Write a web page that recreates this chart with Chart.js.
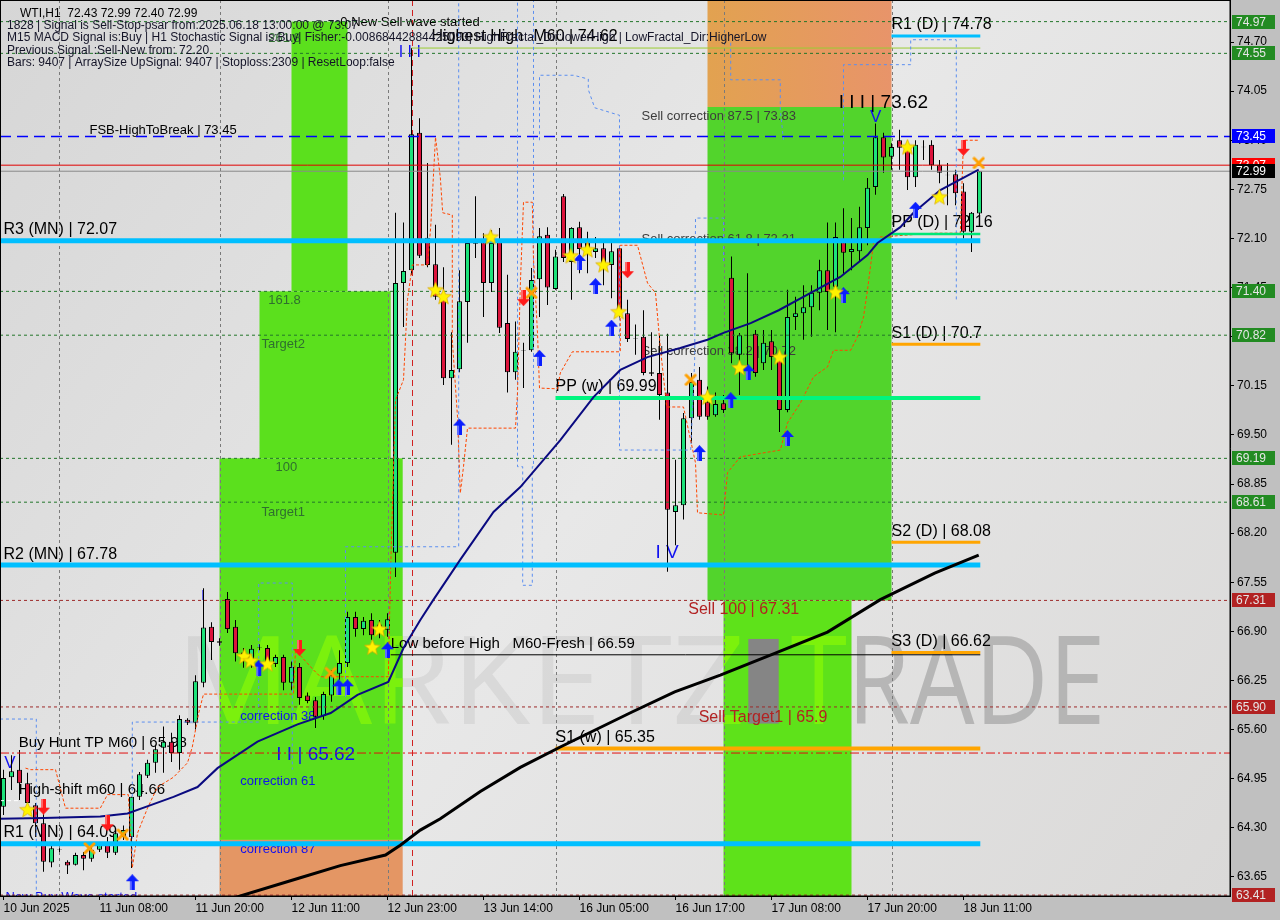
<!DOCTYPE html>
<html>
<head>
<meta charset="utf-8">
<script src="https://cdn.jsdelivr.net/npm/chart.js@4.4.1/dist/chart.umd.min.js"></script>
<style>
html, body { margin: 0; padding: 0; background: #c0c0c0; overflow: hidden; }
canvas { display: block; }
</style>
</head>
<body>
<canvas id="chart" width="1280" height="920"></canvas>
<script>
// time axis: one label every 12 hourly bars
var timeLabels = ["10 Jun 2025", "11 Jun 08:00", "11 Jun 20:00", "12 Jun 11:00", "12 Jun 23:00", "13 Jun 14:00",
                  "16 Jun 05:00", "16 Jun 17:00", "17 Jun 08:00", "17 Jun 20:00", "18 Jun 11:00"];
var timeTickIdx = [0, 12, 24, 36, 48, 60, 72, 84, 96, 108, 120];
var priceTicks = [74.70, 74.05, 73.40, 72.75, 72.10, 71.45, 70.80, 70.15, 69.50, 68.85, 68.20, 67.55,
                  66.90, 66.25, 65.60, 64.95, 64.30, 63.65];

// WTI H1 candles
var openP = [64.58, 64.97, 65.07, 64.89, 64.60, 64.36, 63.84, 64.01, 63.85, 63.81, 63.94, 63.89, 64.01, 64.10, 63.97, 64.18,
  64.18, 64.71, 64.99, 65.16, 65.36, 65.44, 65.29, 65.73, 65.69, 66.22, 66.96, 66.77, 67.33, 66.96, 66.52, 66.46,
  66.69, 66.68, 66.47, 66.56, 66.22, 66.43, 66.05, 65.99, 65.78, 66.05, 66.34, 66.48, 67.09, 66.93, 67.05, 66.99,
  66.92, 67.94, 71.51, 71.68, 73.50, 72.11, 71.76, 71.33, 70.25, 70.37, 71.26, 72.03, 72.05, 71.51, 72.08, 70.98,
  70.33, 70.62, 70.62, 71.56, 72.15, 71.43, 72.66, 71.79, 72.25, 72.08, 71.92, 71.97, 71.75, 71.97, 71.11, 70.78,
  70.80, 70.31, 70.32, 70.06, 68.48, 68.57, 69.72, 70.23, 69.94, 69.76, 69.92, 71.58, 70.56, 70.82, 70.84, 70.45,
  70.74, 70.56, 69.83, 71.06, 71.11, 71.19, 71.38, 71.68, 71.46, 72.05, 71.92, 71.93, 72.24, 72.78, 73.44, 73.18,
  73.40, 73.30, 72.91, 73.31, 73.34, 73.07, 72.94, 72.95, 72.72, 72.19, 72.43];
var highP = [65.07, 65.26, 65.33, 65.03, 64.63, 64.50, 64.07, 64.03, 63.87, 63.97, 63.98, 64.07, 64.11, 64.18, 64.27, 64.33,
  64.71, 65.04, 65.20, 65.40, 65.64, 65.56, 65.79, 65.75, 66.32, 67.47, 67.02, 66.81, 67.42, 67.05, 66.68, 66.72,
  66.73, 66.72, 66.59, 66.59, 66.50, 66.48, 66.09, 66.03, 66.10, 66.39, 66.65, 67.16, 67.16, 67.09, 67.14, 67.05,
  67.14, 72.44, 72.31, 74.62, 73.69, 73.10, 72.28, 71.72, 70.86, 71.68, 72.05, 72.66, 72.17, 72.21, 72.24, 71.62,
  71.00, 70.72, 71.71, 72.24, 72.25, 71.95, 72.69, 72.25, 72.32, 72.19, 72.12, 72.04, 72.04, 71.99, 71.29, 70.96,
  71.15, 70.86, 70.82, 70.84, 69.17, 69.79, 70.32, 70.40, 70.14, 70.06, 70.03, 71.86, 70.85, 71.64, 70.89, 70.89,
  70.89, 70.58, 71.42, 71.33, 71.48, 71.48, 71.82, 72.31, 72.31, 72.50, 72.37, 72.52, 72.90, 73.62, 73.50, 73.36,
  73.54, 73.36, 73.40, 73.40, 73.40, 73.14, 73.10, 73.01, 72.83, 72.45, 72.99];
var lowP = [64.47, 64.80, 64.67, 64.54, 64.31, 63.72, 63.78, 63.98, 63.69, 63.80, 63.74, 63.85, 63.98, 63.90, 63.94, 64.14,
  63.77, 64.67, 64.96, 65.03, 65.03, 65.17, 65.07, 65.66, 65.60, 66.16, 66.52, 66.71, 66.88, 66.50, 66.42, 66.42,
  66.65, 66.43, 66.43, 66.12, 66.12, 65.93, 65.95, 65.62, 65.73, 65.97, 66.26, 66.43, 66.83, 66.85, 66.79, 66.81,
  66.83, 67.62, 70.93, 71.62, 71.84, 71.72, 71.29, 70.16, 69.37, 70.33, 70.72, 71.84, 71.06, 71.39, 70.85, 70.06,
  70.23, 70.12, 70.60, 71.06, 71.22, 71.42, 71.79, 71.29, 71.64, 71.64, 71.84, 71.48, 71.31, 71.02, 70.73, 70.56,
  70.29, 70.28, 69.70, 67.69, 68.04, 68.38, 69.39, 69.70, 69.70, 69.74, 69.79, 70.45, 70.03, 70.27, 70.27, 70.36,
  70.36, 69.54, 69.80, 70.89, 70.76, 70.80, 71.15, 70.89, 70.86, 71.62, 71.68, 71.79, 72.01, 72.68, 72.97, 73.01,
  73.01, 72.74, 72.78, 73.14, 73.01, 72.83, 72.54, 72.54, 72.10, 71.92, 72.40];
var closeP = [64.96, 65.05, 64.89, 64.63, 64.36, 63.85, 64.03, 64.01, 63.80, 63.94, 63.89, 64.01, 64.07, 63.97, 64.23, 64.27,
  64.71, 65.01, 65.16, 65.34, 65.44, 65.29, 65.74, 65.69, 66.24, 66.95, 66.76, 66.75, 66.93, 66.61, 66.62, 66.67,
  66.69, 66.48, 66.56, 66.22, 66.43, 66.02, 65.98, 65.77, 66.07, 66.32, 66.48, 67.09, 66.93, 67.04, 66.85, 66.89,
  67.06, 71.51, 71.67, 73.48, 71.87, 71.75, 71.33, 70.25, 70.36, 71.27, 72.04, 72.04, 71.51, 72.04, 70.92, 70.33,
  70.60, 70.62, 71.55, 72.13, 71.45, 71.86, 71.84, 72.24, 71.96, 71.90, 71.97, 71.75, 71.93, 71.15, 70.77, 70.78,
  70.32, 70.33, 70.03, 68.51, 68.57, 69.72, 70.20, 69.74, 69.74, 69.91, 69.83, 70.58, 70.82, 70.82, 70.32, 70.72,
  70.53, 69.83, 71.06, 71.11, 71.19, 71.38, 71.68, 71.39, 72.12, 71.91, 71.96, 72.25, 72.77, 73.44, 73.17, 73.31,
  73.30, 72.91, 73.34, 73.31, 73.07, 72.97, 72.94, 72.70, 72.19, 72.44, 72.99];

// moving averages (bar index, price)
var blueMAIdx = [-0.44, 5, 12.1, 15.5, 18.4, 21.25, 24.25, 26.75, 31.75, 36.75, 40.9, 44.25, 48.1, 50, 52.1, 53.75,
  57.1, 61.25, 64.6, 69.6, 73.75, 77.1, 80.5, 84.6, 88, 90, 93.4, 96.9, 100.9, 104.6, 108, 109.25, 112.1, 113.75, 117.1, 121.9];
var blueMAVal = [64.42, 64.43, 64.45, 64.49, 64.60, 64.71, 64.84, 65.09, 65.44, 65.67, 65.82, 66.06, 66.23, 66.68, 67.05, 67.32,
  67.85, 68.48, 68.81, 69.43, 70.00, 70.36, 70.53, 70.65, 70.76, 70.85, 70.98, 71.15, 71.38, 71.59, 71.88, 72.04, 72.25, 72.44, 72.74, 73.01];
var blackMAIdx = [28.1, 37.1, 42.1, 47.75, 49.6, 52.1, 54.6, 59.6, 64.6, 69.6, 78.5, 83.9, 89.6, 96.4, 103, 109.6, 116.4, 121.9];
var blackMAVal = [63.35, 63.64, 63.80, 63.94, 64.07, 64.27, 64.42, 64.78, 65.10, 65.37, 65.83, 66.10, 66.32, 66.61, 66.89, 67.32, 67.67, 67.91];

// trailing stop (orange) and fractal channels (blue), as [bar index, price]
var stopPath = [[2.75,65.09],[3.4,65.07],[6.5,65.07],[7.75,64.56],[12.1,64.56],[13,64.74],[15.6,64.74],[16.1,63.77],
  [16.75,64.23],[18,64.56],[19.25,64.84],[21.25,64.97],[23,65.16],[23.6,65.37],[24.4,65.82],[25,66.07],[36.25,66.07],
  [36.5,66.65],[38.75,66.39],[39.6,66.30],[48.1,66.30],[48.4,67.75],[49,69.96],[50,70.23],[50.5,71.29],[51.1,71.75],
  [53,71.75],[53.4,72.25],[54,73.44],[54.6,72.91],[54.9,72.44],[56.1,72.41],[56.1,70.76],[56.75,69.74],[57.1,68.73],
  [57.5,69.08],[58,69.59],[64,69.59],[64.25,70.06],[64.6,71.48],[65,72.58],[66.1,72.58],[66.25,71.82],[66.75,70.85],
  [67,70.12],[69.25,70.11],[69.6,70.32],[71.1,70.60],[77.1,70.60],[77.1,72.01],[79.25,72.01],[80.5,71.51],[81.5,71.38],
  [82.1,70.66],[82.9,69.87],[85,69.87],[86.5,69.13],[86.75,68.47],[90,68.44],[90.5,69.00],[92.1,69.21],[97.1,69.30],
  [98,69.66],[99.6,69.92],[101.25,70.27],[103,70.40],[103.75,70.62],[105.9,70.62],[106.75,70.80],[107.5,71.06],
  [108,71.42],[108.75,72.04],[109.6,72.12],[116.25,72.17],[119.6,72.17],[120,73.40],[121.9,73.40]];
var channelA = [[-0.44,65.74],[4.1,65.74],[4.1,63.30]];
var channelB = [[16.1,63.84],[16.1,65.70],[31.9,65.70],[31.9,67.54],[36.1,67.54],[36.1,65.07]];
var channelC = [[42.75,66.03],[42.75,68.02],[56.9,68.02],[56.9,75.30]];
var channelD = [[64.25,75.30],[64.25,69.08],[64.9,69.08],[64.9,67.51],[66.1,67.51],[66.1,69.08],[66.25,69.08],[66.25,75.30]];
var channelE = [[67,73.40],[67,74.26],[71.25,74.26],[73.1,74.21],[73.1,74.07],[73.9,73.83],[77,73.73],[77,69.30],
  [85.9,69.30],[86.4,70.49],[86.5,72.37],[90,72.37],[90,71.80]];
var channelF = [[90.9,74.69],[90.9,74.20],[97.1,74.20],[97.1,73.80],[97.5,73.40]];
var channelG = [[105,72.87],[105,74.40],[113.4,74.40],[113.4,74.73],[119.1,74.73],[119.1,71.29]];

// price levels
var monthlyLevels = [72.07, 67.78, 64.09];          // R3, R2, R1 (MN)
var weeklyLevels = [69.99, 65.35];                  // PP, S1 (w)
var dailyLevels = [74.78, 72.16, 70.70, 68.08, 66.62]; // R1, PP, S1, S2, S3 (D)
var greenDotLevels = [74.97, 74.55, 71.40, 70.82, 69.19, 68.61];
var redDotLevels = [67.31, 65.90, 63.41];
var fsbLevel = 73.45, signalLevel = 73.07, bidLevel = 72.99, highestHigh = 74.62, lowBeforeHigh = 66.59,
    huntLevel = 65.29, highShift = 64.66;
var axisTagVal = [74.97, 74.55, 73.45, 73.07, 72.99, 71.40, 70.82, 69.19, 68.61, 67.31, 65.90, 63.41];

// signal markers
var starIdx = [3, 30.1, 30.9, 33, 46.1, 47, 54, 55, 60.9, 70.9, 73, 75, 76.9, 88, 92, 97, 104, 113, 117];
var starVal = [64.54, 66.57, 66.51, 66.47, 66.69, 66.93, 71.42, 71.33, 72.12, 71.87, 71.95, 71.75, 71.13, 70.00, 70.39, 70.53, 71.39, 73.31, 72.65];
var upIdx = [16.1, 31.9, 41.9, 43, 48, 57, 67, 72, 74, 76, 87, 90.9, 93.1, 98, 105, 114];
var upVal = [63.58, 66.42, 66.16, 66.16, 66.65, 69.61, 70.52, 71.79, 71.47, 70.92, 69.26, 69.96, 70.33, 69.46, 71.35, 72.48];
var downIdx = [5, 13, 37, 65, 78, 120];
var downVal = [64.58, 64.36, 66.68, 71.31, 71.68, 73.30];
var crossIdx = [10.75, 14.9, 40.9, 66, 85.9, 121.9];
var crossVal = [64.03, 64.21, 66.35, 71.38, 70.23, 73.10];

// target / correction zones: [from bar, to bar, low, high]
var buyZones = [[36, 43, 71.40, 74.97], [32, 48.4, 69.19, 71.40], [27, 49.9, 64.14, 69.19]];
var buyStopZone = [27, 49.9, 63.30, 64.14];
var sellTopZone = [88, 111, 73.84, 75.30];
var sellZone = [88, 111, 67.31, 73.84];
var sellTargetZone = [90, 106, 63.30, 67.31];
var daySeparators = [7, 27, 48, 69, 90, 111];

// ------------------------------------------------------------------
var xMin = -0.4375, xMax = 153.3125, yMin = 63.398, yMax = 75.256, lineEnd = 122.1;
var FONT = '"Liberation Sans", Arial, sans-serif';
var GREEN = '#1DE27A', RED = '#DC143C';
var BLUE_TXT = '#1010F0', ZONE_TXT = '#2F6F2F', SELL_TXT = '#B22222';

function pairs(idx, val) { return idx.map(function (v, k) { return { x: v, y: val[k] }; }); }
function path(pts) { return pts.map(function (p) { return { x: p[0], y: p[1] }; }); }
function lineSet(data, color, width, dash, order) {
  return { type: 'line', data: data, borderColor: color, borderWidth: width, borderDash: dash || [],
           pointRadius: 0, fill: false, tension: 0, clip: 0, order: order };
}
function level(v, from, to, color, width, dash, order) {
  return lineSet([{ x: from, y: v }, { x: to, y: v }], color, width, dash, order);
}

// marker images
function makeStar() {
  var c = document.createElement('canvas'); c.width = 17; c.height = 17;
  var g = c.getContext('2d'); g.beginPath();
  for (var k = 0; k < 10; k++) {
    var r = k % 2 ? 3.6 : 8.2, a = -Math.PI / 2 + k * Math.PI / 5;
    g.lineTo(8.5 + r * Math.cos(a), 9 + r * Math.sin(a));
  }
  g.closePath(); g.fillStyle = '#FFF200'; g.fill();
  g.strokeStyle = '#D9A800'; g.lineWidth = 0.7; g.stroke();
  return c;
}
function makeArrow(color, down) {
  var c = document.createElement('canvas'); c.width = 13; c.height = 16;
  var g = c.getContext('2d');
  if (down) { g.translate(0, 16); g.scale(1, -1); }
  g.beginPath();
  g.moveTo(6.5, 0); g.lineTo(13, 7); g.lineTo(9, 7); g.lineTo(9, 16); g.lineTo(4, 16); g.lineTo(4, 7); g.lineTo(0, 7);
  g.closePath(); g.fillStyle = color; g.fill();
  g.fillStyle = 'rgba(255,255,255,0.35)'; g.fillRect(4, 7, 2, 9);
  return c;
}
function makeCross() {
  var c = document.createElement('canvas'); c.width = 13; c.height = 13;
  var g = c.getContext('2d'); g.strokeStyle = '#FFA000'; g.lineWidth = 3; g.lineCap = 'round';
  g.beginPath(); g.moveTo(2, 2); g.lineTo(11, 11); g.moveTo(11, 2); g.lineTo(2, 11); g.stroke();
  return c;
}
function markers(data, img) {
  return { type: 'line', showLine: false, data: data, pointStyle: img, pointRadius: 6, order: 5, clip: 0 };
}

var wicks = [], bodies = [], bodyColors = [];
openP.forEach(function (o, i) {
  var c = closeP[i];
  wicks.push({ x: i, y: [lowP[i], highP[i]] });
  if (Math.abs(o - c) < 0.005) { bodies.push({ x: i, y: [o - 0.004, o + 0.004] }); bodyColors.push('#000'); }
  else { bodies.push({ x: i, y: [o, c] }); bodyColors.push(c > o ? GREEN : RED); }
});

var datasets = [
  { type: 'bar', data: wicks, backgroundColor: '#000', borderWidth: 0, barThickness: 1, grouped: false, inflateAmount: 0, order: 50 },
  { type: 'bar', data: bodies, backgroundColor: bodyColors, borderColor: '#000', borderWidth: 1, borderSkipped: false,
    barThickness: 5, grouped: false, inflateAmount: 0, order: 45 }
];
greenDotLevels.forEach(function (v) { datasets.push(level(v, xMin, xMax, '#23762B', 1, [3, 3], 40)); });
redDotLevels.forEach(function (v) { datasets.push(level(v, xMin, xMax, '#9E2A2A', 1, [3, 3], 40)); });
datasets.push(level(huntLevel, xMin, xMax, '#E01010', 1, [9, 3, 2, 3], 40));
datasets.push(level(highShift, xMin, 2, '#FFFFFF', 1, [4, 3], 40));
datasets.push(level(fsbLevel, xMin, xMax, '#0000FF', 1.5, [11, 6], 39));
datasets.push(level(signalLevel, xMin, xMax, '#E00000', 1, [], 39));
datasets.push(level(bidLevel, xMin, xMax, '#8A8A8A', 1, [], 39));
datasets.push(level(highestHigh, 51, lineEnd, '#9ACD32', 1, [], 39));
datasets.push(level(lowBeforeHigh, 48.4, lineEnd, '#000000', 1, [], 39));
[channelA, channelB, channelC, channelD, channelE, channelF, channelG].forEach(function (p) {
  datasets.push(lineSet(path(p), '#5B8EF0', 1, [3, 3], 36));
});
datasets.push(lineSet(path(stopPath), '#FF4500', 1, [3, 2], 35));
monthlyLevels.forEach(function (v) { datasets.push(level(v, xMin, lineEnd, '#00BFFF', 5, [], 30)); });
datasets.push(level(weeklyLevels[0], 69, lineEnd, '#00F57F', 4, [], 30));
datasets.push(level(weeklyLevels[1], 69, lineEnd, '#FFA500', 4, [], 30));
datasets.push(level(dailyLevels[0], 111, lineEnd, '#00BFFF', 3, [], 30));
datasets.push(level(dailyLevels[1], 111, lineEnd, '#00E676', 2.5, [], 30));
dailyLevels.slice(2).forEach(function (v) { datasets.push(level(v, 111, lineEnd, '#FFA500', 3, [], 30)); });
datasets.push(lineSet(pairs(blackMAIdx, blackMAVal), '#000000', 3, [], 25));
datasets.push(lineSet(pairs(blueMAIdx, blueMAVal), '#0A0A80', 2, [], 25));
datasets.push(markers(pairs(starIdx, starVal), makeStar()));
datasets.push(markers(pairs(upIdx, upVal), makeArrow('#0A1EFF', false)));
datasets.push(markers(pairs(downIdx, downVal), makeArrow('#FF1A1A', true)));
datasets.push(markers(pairs(crossIdx, crossVal), makeCross()));

// chart texts: [text, bar index, price, size, colour]
var chartTexts = [
  ["0 New Sell wave started", 42.1, 74.91, 13, '#000'],
  ["Highest High", 53.5, 74.71, 16, '#000'],
  ["M60 | 74.62", 66.25, 74.71, 16, '#000'],
  ["I I I", 49.4, 74.50, 16, BLUE_TXT],
  ["FSB-HighToBreak | 73.45", 10.75, 73.48, 13, '#000'],
  ["Sell correction 87.5 | 73.83", 79.75, 73.67, 13, '#3C3C3C'],
  ["Sell correction 61.8 | 72.21", 79.75, 72.04, 13, '#3C3C3C'],
  ["Sell correction 38.2 | 70.72", 79.75, 70.56, 13, '#3C3C3C'],
  ["I I I | 73.62", 104.4, 73.83, 19, '#000'],
  ["V", 108.3, 73.64, 17, BLUE_TXT],
  ["R1 (D) | 74.78", 111, 74.87, 16, '#000'],
  ["PP (D) | 72.16", 111, 72.25, 16, '#000'],
  ["S1 (D) | 70.7", 111, 70.78, 16, '#000'],
  ["S2 (D) | 68.08", 111, 68.16, 16, '#000'],
  ["S3 (D) | 66.62", 111, 66.71, 16, '#000'],
  ["R3 (MN) | 72.07", 0, 72.16, 16, '#000'],
  ["R2 (MN) | 67.78", 0, 67.86, 16, '#000'],
  ["R1 (MN) | 64.09", 0, 64.18, 16, '#000'],
  ["PP (w) | 69.99", 69, 70.08, 16, '#000'],
  ["S1 (w) | 65.35", 69, 65.44, 16, '#000'],
  ["Buy Hunt TP M60 | 65.98", 1.9, 65.37, 15, '#000'],
  ["High-shift m60 | 64.66", 1.9, 64.75, 15, '#000'],
  ["Low before High   M60-Fresh | 66.59", 48.4, 66.68, 15, '#000'],
  ["I I | 65.62", 34.1, 65.20, 19, BLUE_TXT],
  ["I V", 81.5, 67.87, 19, BLUE_TXT],
  ["I", 24.7, 67.32, 15, BLUE_TXT],
  ["V", 0.1, 65.09, 17, BLUE_TXT],
  ["Sell 100 | 67.31", 85.6, 67.13, 16, SELL_TXT],
  ["Sell Target1 | 65.9", 86.9, 65.70, 16, SELL_TXT],
  ["261.8", 33.1, 74.70, 13, ZONE_TXT],
  ["161.8", 33.1, 71.23, 13, ZONE_TXT],
  ["Target2", 32.25, 70.65, 13, ZONE_TXT],
  ["100", 34, 69.02, 13, ZONE_TXT],
  ["Target1", 32.25, 68.43, 13, ZONE_TXT],
  ["correction 38", 29.6, 65.73, 13, BLUE_TXT],
  ["correction 61", 29.6, 64.87, 13, BLUE_TXT],
  ["correction 87", 29.6, 63.97, 13, BLUE_TXT],
  ["New Buy Wave started", 0.25, 63.33, 13, BLUE_TXT]
];
var infoLines = [
  ["WTI,H1  72.43 72.99 72.40 72.99", 20, 17],
  ["1828 | Signal is Sell-Stop-psar from:2025.06.18 13:00:00 @ 73.07", 7, 29],
  ["M15 MACD Signal is:Buy | H1 Stochastic Signal is:Buy| Fisher:-0.00868442884425093| HighFractal_Dir:lowerHigh | LowFractal_Dir:HigherLow", 7, 41],
  ["Previous Signal :Sell-New from: 72.20", 7, 54],
  ["Bars: 9407 | ArraySize UpSignal: 9407 | Stoploss:2309 | ResetLoop:false", 7, 66]
];
var axisTagBg = ['#228B22', '#228B22', '#0000FF', '#FF0000', '#000000', '#228B22', '#228B22', '#228B22', '#228B22', '#B22222', '#B22222', '#B22222'];
var axisTagFg = ['#E6E6E6', '#E6E6E6', '#FFFFFF', '#FFFFFF', '#FFFFFF', '#E6E6E6', '#E6E6E6', '#E6E6E6', '#E6E6E6', '#E6E6E6', '#E6E6E6', '#E6E6E6'];

function rectOf(chart, z) {
  var xs = chart.scales.x, ys = chart.scales.y;
  var x0 = xs.getPixelForValue(z[0]), x1 = xs.getPixelForValue(z[1]);
  var y0 = ys.getPixelForValue(z[3]), y1 = ys.getPixelForValue(z[2]);
  return [x0, y0, x1 - x0, y1 - y0];
}

function drawWatermark(ctx, chart, colorA, colorB) {
  var xs = chart.scales.x, ys = chart.scales.y;
  var base = ys.getPixelForValue(65.68);
  ctx.font = '122px "Open Sans", sans-serif';
  ctx.textBaseline = 'alphabetic';
  [["MARKETZ", 21.5, 92.75, colorA], ["TRADE", 98.4, 137.75, colorB]].forEach(function (w) {
    var x0 = xs.getPixelForValue(w[1]), x1 = xs.getPixelForValue(w[2]);
    var m = ctx.measureText(w[0]).width;
    ctx.save(); ctx.translate(x0, base); ctx.scale((x1 - x0) / m, 1);
    ctx.fillStyle = w[3]; ctx.fillText(w[0], 0, 0); ctx.restore();
  });
}

var backPlugin = {
  id: 'back',
  beforeDraw: function (chart) {
    var ctx = chart.ctx, a = chart.chartArea;
    ctx.save();
    ctx.fillStyle = '#C0C0C0'; ctx.fillRect(0, 0, chart.width, chart.height);
    var g = ctx.createLinearGradient(a.left, a.top, a.right, a.bottom);
    g.addColorStop(0, '#D6D6D6'); g.addColorStop(0.5, '#E8E8E8'); g.addColorStop(1, '#DAD9D8');
    ctx.fillStyle = g; ctx.fillRect(a.left, a.top, a.right - a.left, a.bottom - a.top);
    ctx.restore();
  },
  beforeDatasetsDraw: function (chart) {
    var ctx = chart.ctx, a = chart.chartArea, xs = chart.scales.x, ys = chart.scales.y;
    ctx.save();
    ctx.beginPath(); ctx.rect(a.left, a.top, a.right - a.left, a.bottom - a.top); ctx.clip();
    drawWatermark(ctx, chart, 'rgba(140,140,140,0.16)', 'rgba(130,130,130,0.45)');

    var greens = [];
    buyZones.forEach(function (z) { var r = rectOf(chart, z); ctx.fillStyle = '#5BE01D'; ctx.fillRect.apply(ctx, r); greens.push(r); });
    var r = rectOf(chart, buyStopZone); ctx.fillStyle = '#E49664'; ctx.fillRect.apply(ctx, r);
    r = rectOf(chart, sellTopZone);
    var og = ctx.createLinearGradient(r[0], 0, r[0] + r[2], 0);
    og.addColorStop(0, '#E2A250'); og.addColorStop(1, '#E8946A');
    ctx.fillStyle = og; ctx.fillRect.apply(ctx, r);
    r = rectOf(chart, sellZone); ctx.fillStyle = '#52D42C'; ctx.fillRect.apply(ctx, r); greens.push(r);
    r = rectOf(chart, sellTargetZone); ctx.fillStyle = '#5EE21A'; ctx.fillRect.apply(ctx, r); greens.push(r);

    // watermark shows lighter on the green zones
    ctx.save(); ctx.beginPath();
    greens.forEach(function (q) { ctx.rect(q[0], q[1], q[2], q[3]); });
    ctx.clip();
    drawWatermark(ctx, chart, 'rgba(150,255,0,0.55)', 'rgba(150,255,0,0.55)');
    ctx.restore();
    r = rectOf(chart, [93.1, 96.9, 65.68, 66.80]); ctx.fillStyle = '#858585'; ctx.fillRect.apply(ctx, r);

    // day separators and highest-high marker line
    ctx.lineWidth = 1;
    ctx.setLineDash([3, 3]); ctx.strokeStyle = '#7A7A7A';
    daySeparators.forEach(function (d) {
      var x = Math.round(xs.getPixelForValue(d)) + 0.5;
      ctx.beginPath(); ctx.moveTo(x, a.top); ctx.lineTo(x, a.bottom); ctx.stroke();
    });
    ctx.setLineDash([6, 4]); ctx.strokeStyle = '#D02020';
    var hx = Math.round(xs.getPixelForValue(51.1)) + 0.5;
    ctx.beginPath(); ctx.moveTo(hx, a.top); ctx.lineTo(hx, a.bottom); ctx.stroke();
    ctx.setLineDash([]);

    // text objects sit behind the candles
    ctx.textBaseline = 'alphabetic'; ctx.textAlign = 'left';
    chartTexts.forEach(function (t) {
      ctx.font = t[3] + 'px ' + FONT; ctx.fillStyle = t[4];
      ctx.fillText(t[0], xs.getPixelForValue(t[1]), ys.getPixelForValue(t[2]));
    });
    ctx.restore();
  },
  afterDatasetsDraw: function (chart) {
    var ctx = chart.ctx;
    ctx.save();
    ctx.font = '12px ' + FONT; ctx.textBaseline = 'alphabetic'; ctx.textAlign = 'left';
    infoLines.forEach(function (l, k) { ctx.fillStyle = k === 0 ? '#000' : '#141428'; ctx.fillText(l[0], l[1], l[2]); });
    ctx.restore();
  },
  afterDraw: function (chart) {
    var ctx = chart.ctx, a = chart.chartArea, ys = chart.scales.y;
    ctx.save();
    ctx.font = '12px ' + FONT; ctx.textBaseline = 'middle'; ctx.textAlign = 'left';
    axisTagVal.forEach(function (v, k) {
      var y = Math.round(ys.getPixelForValue(v));
      ctx.fillStyle = axisTagBg[k]; ctx.fillRect(ys.left + 2, y - 7, 43, 14);
      ctx.fillStyle = axisTagFg[k]; ctx.fillText(v.toFixed(2), ys.left + 6, y + 0.5);
    });
    ctx.strokeStyle = '#000'; ctx.lineWidth = 1;
    ctx.strokeRect(a.left + 0.5, a.top + 0.5, a.right - a.left - 0.5, a.bottom - a.top - 0.5);
    ctx.restore();
  }
};

new Chart(document.getElementById('chart'), {
  type: 'bar',
  data: { datasets: datasets },
  plugins: [backPlugin],
  options: {
    responsive: false,
    animation: false,
    devicePixelRatio: 1,
    events: [],
    layout: { padding: 0, autoPadding: false },
    plugins: { legend: { display: false }, tooltip: { enabled: false } },
    scales: {
      x: {
        type: 'linear', min: xMin, max: xMax, offset: false, position: 'bottom',
        afterBuildTicks: function (s) { s.ticks = timeTickIdx.map(function (v) { return { value: v }; }); },
        afterFit: function (s) { s.height = 24; s.paddingLeft = 0; s.paddingRight = 0; },
        ticks: {
          autoSkip: false, maxRotation: 0, minRotation: 0, align: 'start', padding: 1, color: '#000',
          font: { family: FONT, size: 12 },
          callback: function (v) { var k = timeTickIdx.indexOf(v); return k < 0 ? '' : timeLabels[k]; }
        },
        grid: { drawOnChartArea: false, tickLength: 4, color: '#000', offset: false },
        border: { color: '#000' }
      },
      y: {
        type: 'linear', position: 'right', min: yMin, max: yMax,
        afterBuildTicks: function (s) { s.ticks = priceTicks.map(function (v) { return { value: v }; }); },
        afterFit: function (s) { s.width = 50; s.paddingTop = 0; s.paddingBottom = 0; },
        ticks: {
          padding: 3, color: '#000', font: { family: FONT, size: 12 },
          callback: function (v) { return Number(v).toFixed(2); }
        },
        grid: { drawOnChartArea: false, tickLength: 4, color: '#000' },
        border: { color: '#000' }
      }
    }
  }
});
</script>
</body>
</html>
